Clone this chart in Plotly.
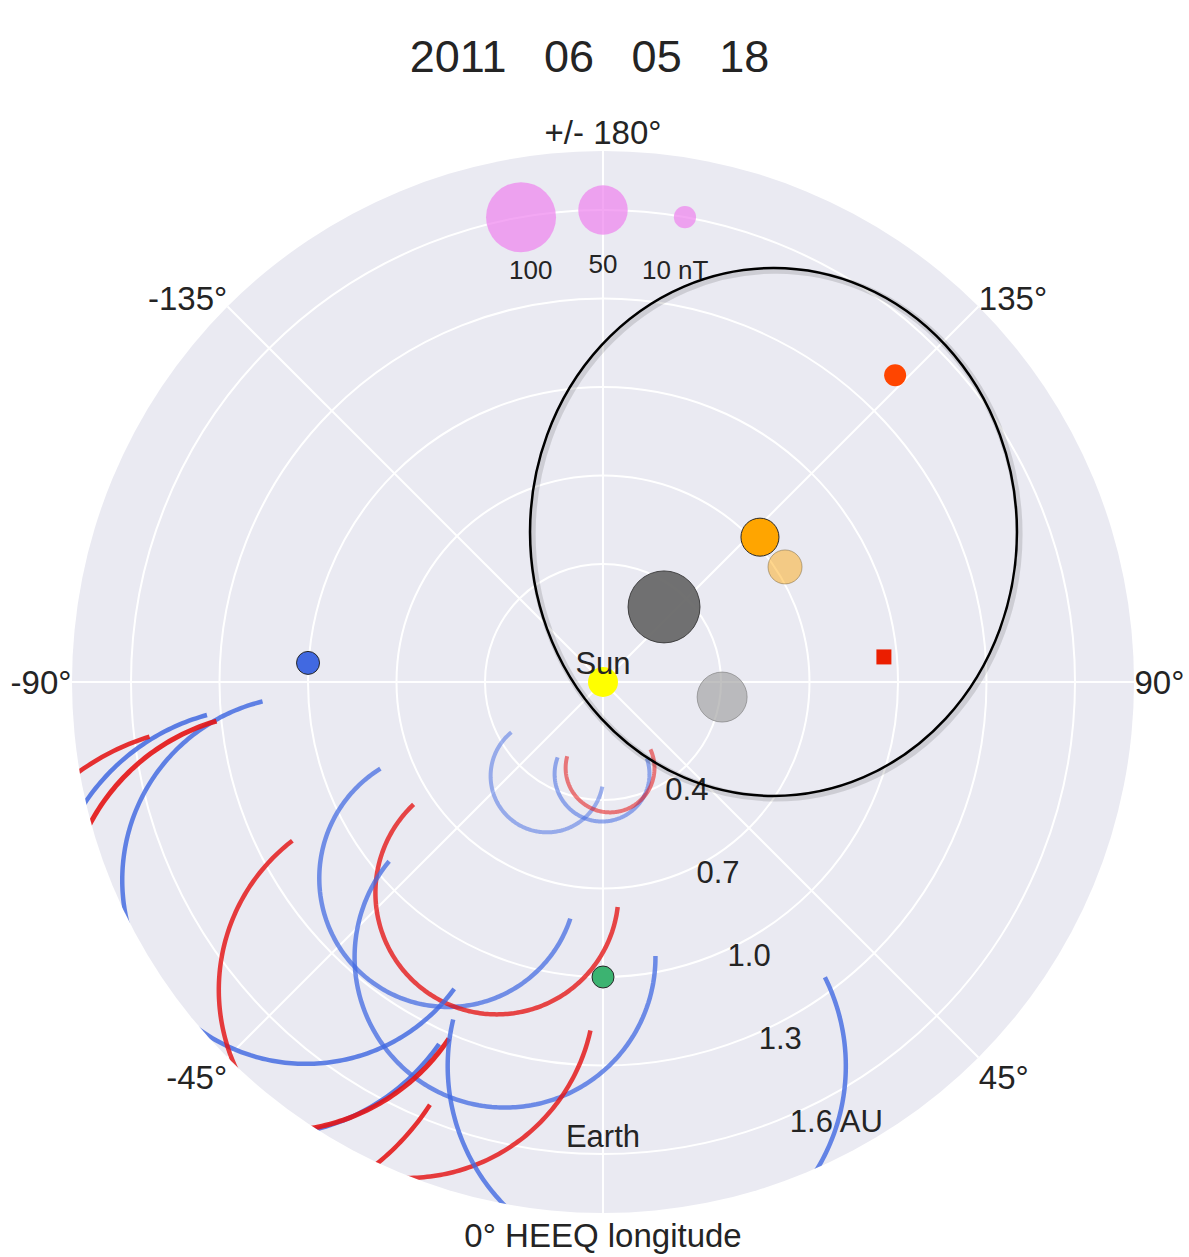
import numpy as np
import plotly.graph_objects as go

# ---------------- data ----------------
date_parts = ["2011", "06", "05", "18"]

# planets / spacecraft: HEEQ longitude [deg], heliocentric distance [AU]
body_names = ["Mercury", "MESSENGER", "Venus", "Venus Express", "Earth",
              "Mars", "STEREO-A", "STEREO-B"]
body_lon = [140.9, 82.8, 132.7, 122.3, 0.0, 136.4, 95.1, -93.7]
body_r = [0.328, 0.407, 0.724, 0.730, 1.000, 1.436, 0.956, 1.002]

# ICME fronts (self-similar expanding circles): apex longitude [deg], apex distance [AU]
front_lon = [-30.8, -0.6, 4.7, -38.3, -26.7, -19.6, -56.3, -32.5, -54.8, -53.8, -52.7, 6.5]
front_apex = [0.562, 0.473, 0.443, 1.284, 1.212, 1.500, 1.833, 1.875, 2.136, 2.088, 2.455, 1.985]
front_run = ["b", "b", "r", "b", "r", "b", "b", "r", "b", "r", "r", "b"]
front_half_width = 31.0  # deg

# magnetic field bubble scale [nT]
bscale_values = [100, 50, 10]
bscale_labels = ["100", "50", "10 nT"]

# axes
r_ticks = [0.4, 0.7, 1.0, 1.3, 1.6]
r_ticktext = ["0.4", "0.7", "1.0", "1.3", "1.6 AU"]
lon_ticks = [0, 45, 90, 135, 180, 225, 270, 315]
lon_ticktext = ["0\u00b0 HEEQ longitude", "45\u00b0", "90\u00b0", "135\u00b0",
                "+/- 180\u00b0", "-135\u00b0", "-90\u00b0", "-45\u00b0"]

# ---------------- styles ----------------
FONT = "Arial, 'Liberation Sans', Helvetica, sans-serif"
TXT = "rgb(36,36,36)"
run_color = {"b": "65,105,225", "r": "228,20,20"}
front_opacity = [0.5, 0.55, 0.55, 0.72, 0.78, 0.75, 0.82, 0.82, 0.85, 0.9, 0.88, 0.8]
front_width = [4, 4, 4, 4.5, 4.5, 4.5, 4.5, 4.5, 4.5, 5, 4.5, 4.5]
arc_span = 110.0  # deg drawn either side of the apex direction
RADIAL_AXIS_ANGLE = 290.6

body_style = {
    "Mercury":       dict(color="rgba(105,105,105,0.95)", size=72, line=dict(color="rgba(40,40,40,0.8)", width=1)),
    "MESSENGER":     dict(color="rgba(160,160,160,0.65)", size=50, line=dict(color="rgba(120,120,120,0.6)", width=1)),
    "Venus":         dict(color="rgb(255,165,0)", size=38, line=dict(color="rgb(40,40,40)", width=1)),
    "Venus Express": dict(color="rgba(255,165,0,0.45)", size=34, line=dict(color="rgba(120,100,60,0.5)", width=1)),
    "Earth":         dict(color="rgb(60,179,113)", size=22, line=dict(color="rgb(40,40,40)", width=1)),
    "Mars":          dict(color="rgb(255,69,0)", size=22, line=dict(width=0)),
    "STEREO-A":      dict(color="rgb(235,30,0)", size=15, symbol="square", line=dict(width=0)),
    "STEREO-B":      dict(color="rgb(65,105,225)", size=23, line=dict(color="rgb(40,40,40)", width=1)),
}

bscale_r, bscale_label_r = 1.6, 1.41
bscale_lon = [190, 180, 170]

fig = go.Figure()

# ICME fronts
k = np.sin(np.radians(front_half_width))
alpha = np.radians(np.linspace(-arc_span, arc_span, 220))
for lon, apex, run, op, w in zip(front_lon, front_apex, front_run, front_opacity, front_width):
    c = apex / (1 + k)
    rad = c * k
    lr = np.radians(lon)
    x = c * np.cos(lr) + rad * np.cos(lr + alpha)
    y = c * np.sin(lr) + rad * np.sin(lr + alpha)
    fig.add_trace(go.Scatterpolar(
        r=np.hypot(x, y), theta=np.degrees(np.arctan2(y, x)), mode="lines",
        line=dict(color=f"rgba({run_color[run]},{op})", width=w),
        hoverinfo="skip"))

# Sun
fig.add_trace(go.Scatterpolar(r=[0], theta=[0], mode="markers",
                              marker=dict(color="yellow", size=30, line=dict(width=0)), name="Sun"))

# planets and spacecraft
for name, lon, r in zip(body_names, body_lon, body_r):
    st = body_style[name]
    fig.add_trace(go.Scatterpolar(
        r=[r], theta=[lon], mode="markers", name=name,
        marker=dict(color=st["color"], size=st["size"], symbol=st.get("symbol", "circle"),
                    line=st["line"])))

# labels
fig.add_trace(go.Scatterpolar(r=[0], theta=[0], mode="text", text=["Sun"],
                              textposition="top center",
                              textfont=dict(size=31, color=TXT, family=FONT)))
fig.add_trace(go.Scatterpolar(r=[1.55], theta=[0], mode="text", text=["Earth"],
                              textposition="middle center",
                              textfont=dict(size=31, color=TXT, family=FONT)))

# field strength bubble scale
fig.add_trace(go.Scatterpolar(
    r=[bscale_r] * len(bscale_values), theta=bscale_lon, mode="markers",
    marker=dict(color="violet", size=[7 * np.sqrt(b) for b in bscale_values], line=dict(width=0))))
fig.add_trace(go.Scatterpolar(
    r=[bscale_label_r] * len(bscale_labels), theta=bscale_lon, mode="text",
    text=bscale_labels, textposition="middle center",
    textfont=dict(size=26, color=TXT, family=FONT)))

# highlight ellipse (paper coordinates of the polar frame)
ell = dict(x0=0.4313, x1=0.8898, y0=0.3927, y1=0.8898)
fig.add_shape(type="circle", xref="paper", yref="paper",
              x0=ell["x0"] + 0.002, x1=ell["x1"] + 0.002,
              y0=ell["y0"] - 0.002, y1=ell["y1"] - 0.002,
              fillcolor="rgba(0,0,0,0)", opacity=1,
              line=dict(color="rgba(0,0,0,0.12)", width=7))
fig.add_shape(type="circle", xref="paper", yref="paper", **ell,
              fillcolor="rgba(0,0,0,0)", opacity=1,
              line=dict(color="black", width=2.5))

fig.update_layout(
    width=1189, height=1257,
    template="seaborn",
    showlegend=False,
    paper_bgcolor="white",
    margin=dict(l=72, r=55, t=151, b=44),
    font=dict(family=FONT, size=31, color=TXT),
    title=dict(text="\u00a0\u00a0\u00a0".join(date_parts), x=589.5 / 1189, y=1 - 56.5 / 1257,
               xanchor="center", yanchor="middle", font=dict(size=45, color=TXT, family=FONT)),
    polar=dict(
        bgcolor="rgb(234,234,242)",
        domain=dict(x=[0, 1], y=[0, 1]),
        radialaxis=dict(range=[0, 1.8], tickvals=r_ticks, ticktext=r_ticktext,
                        angle=RADIAL_AXIS_ANGLE, side="counterclockwise",
                        tickangle=RADIAL_AXIS_ANGLE - 360,
                        showline=False, ticks="",
                        gridcolor="white", gridwidth=2,
                        tickfont=dict(size=31, color=TXT, family=FONT)),
        angularaxis=dict(rotation=270, direction="counterclockwise",
                         tickvals=lon_ticks, ticktext=lon_ticktext,
                         showline=False, ticks="", gridcolor="white", gridwidth=2,
                         tickfont=dict(size=33, color=TXT, family=FONT)),
    ),
)

fig.write_html("out.html")
